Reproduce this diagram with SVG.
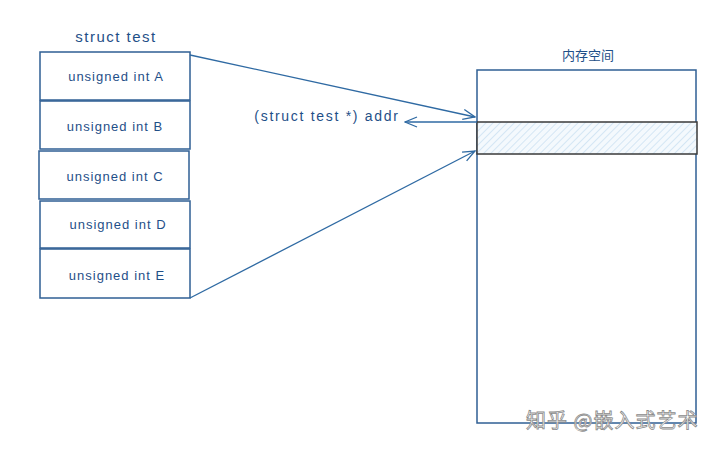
<svg xmlns="http://www.w3.org/2000/svg" width="720" height="450" viewBox="0 0 720 450">
<style>
.box{fill:#fff;stroke:#2f5f94;stroke-width:1.5}
.lbl{font-family:"Liberation Sans",sans-serif;font-size:13px;letter-spacing:1px;fill:#1f4f88;text-anchor:middle}
.title{font-size:15px;letter-spacing:1.5px}
.addr{font-size:14px;letter-spacing:1.7px}
.cn{font-family:"Noto Sans CJK SC",sans-serif;font-size:13px;fill:#1f4f88;text-anchor:middle}
.edge{fill:none;stroke:#2f6aa3;stroke-width:1.3}
.wm{font-family:"Noto Sans CJK SC",sans-serif;font-size:20px;letter-spacing:1px;fill:#fff;stroke:#8a8a8a;stroke-width:0.8;text-anchor:start}
</style>
<defs>
<pattern id="hatch" width="5" height="5" patternUnits="userSpaceOnUse" patternTransform="rotate(45)">
<rect width="5" height="5" fill="#f4f9fd"/>
<line x1="0" y1="0" x2="0" y2="5" stroke="#b5d3ec" stroke-width="1"/>
</pattern>
<marker id="arr" markerWidth="14" markerHeight="12" refX="13" refY="6" orient="auto" markerUnits="userSpaceOnUse">
<path d="M1,1 L13,6 L1,11" fill="none" stroke="#2f6aa3" stroke-width="1.3"/>
</marker>
</defs>
<rect width="720" height="450" fill="#fff"/>
<g id="struct-title"><text class="lbl title" x="116" y="42">struct test</text></g>
<g id="field-A"><rect class="box" x="40" y="52" width="150" height="48"/><text class="lbl" x="116" y="81">unsigned int A</text></g>
<g id="field-B"><rect class="box" x="40" y="101" width="150" height="48"/><text class="lbl" x="115" y="131">unsigned int B</text></g>
<g id="field-C"><rect class="box" x="39" y="151" width="150" height="48"/><text class="lbl" x="115" y="181">unsigned int C</text></g>
<g id="field-D"><rect class="box" x="40" y="201" width="150" height="47"/><text class="lbl" x="118" y="229">unsigned int D</text></g>
<g id="field-E"><rect class="box" x="40" y="249" width="150" height="49"/><text class="lbl" x="117" y="280">unsigned int E</text></g>
<g id="memory-title"><text class="cn" x="588" y="60">内存空间</text></g>
<g id="memory"><rect class="box" x="477" y="70" width="219" height="353"/></g>
<g id="memory-slot"><rect x="477" y="122" width="220" height="32" fill="url(#hatch)" stroke="#3a3a3a" stroke-width="1.5"/></g>
<g id="addr-label"><text class="lbl addr" x="327" y="121">(struct test *) addr</text></g>
<g id="connectors">
<line class="edge" x1="190" y1="55" x2="475" y2="117" marker-end="url(#arr)"/>
<line class="edge" x1="190" y1="298" x2="475" y2="151" marker-end="url(#arr)"/>
<line class="edge" x1="477" y1="122" x2="405" y2="122" marker-end="url(#arr)"/>
</g>
<g id="watermark"><text class="wm" x="526" y="428">知乎 @嵌入式艺术</text></g>
</svg>
